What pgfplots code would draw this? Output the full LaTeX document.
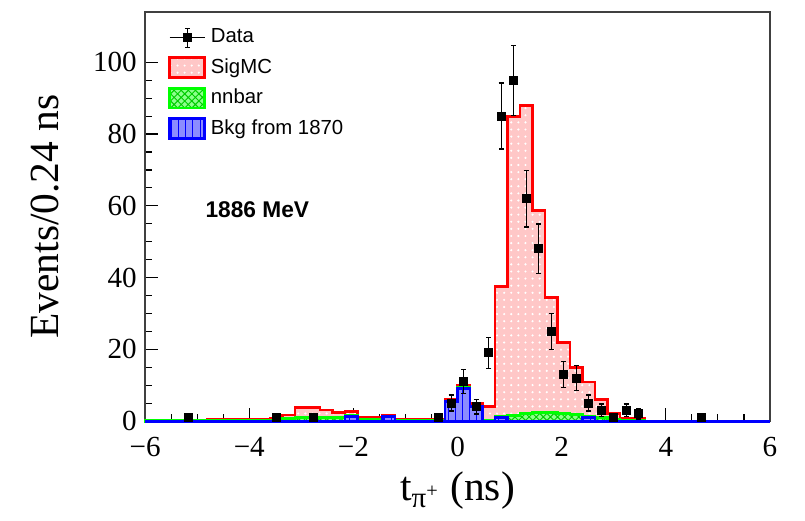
\documentclass[border=0pt]{standalone}
\usepackage{pgfplots}
\pgfplotsset{compat=1.18}
\usepackage{pgfplotstable}
\usepackage{fontspec}
\setmainfont{Liberation Serif}
\newfontfamily\arial{Liberation Sans}
\usetikzlibrary{patterns,calc}

% stacked histograms, bin width 0.24 ns, left edges
% sig = total (SigMC+nnbar+bkg), nn = nnbar+bkg, bkg = Bkg from 1870
\pgfplotstableread{
x     sig   nn   bkg
-6.00 0.3   0.1  0
-5.76 0.3   0.1  0
-5.52 0.3   0.1  0
-5.28 0.3   0.1  0
-5.04 0.3   0.1  0
-4.80 0.4   0.1  0
-4.56 0.5   0.1  0
-4.32 0.5   0.1  0
-4.08 0.6   0.1  0
-3.84 0.6   0.1  0
-3.60 0.7   0.2  0
-3.36 1.7   0.8  0
-3.12 3.8   1.0  0
-2.88 3.8   1.0  0
-2.64 3.1   1.0  0
-2.40 2.4   0.9  0
-2.16 2.6   1.5  1.2
-1.92 1.0   0.4  0
-1.68 1.0   0.4  0
-1.44 1.7   1.3  1.2
-1.20 0.6   0.2  0
-0.96 0.6   0.2  0
-0.72 0.6   0.2  0
-0.48 0.6   0.2  0
-0.24 6.0   5.6  5.5
0.00  10.0  9.3  9.1
0.24  4.9   4.1  4.0
0.48  4.0   0.3  0
0.72  37.6  1.2  1.0
0.96  85.0  1.6  0
1.20  88.0  2.2  0
1.44  58.6  2.4  0
1.68  34.5  2.4  0
1.92  21.9  2.0  0
2.16  14.9  1.8  0
2.40  10.9  1.4  1.0
2.64  5.9   0.9  0
2.88  2.1   0.4  0
3.12  0.8   0.1  0
3.36  0.8   0.1  0
3.60  0     0    0
3.84  0     0    0
4.08  0     0    0
4.32  0     0    0
4.56  0     0    0
4.80  0     0    0
5.04  0     0    0
5.28  0     0    0
5.52  0     0    0
5.76  0     0    0
6.00  0     0    0
}\hist

% data, bin centres, sqrt(N) errors
\pgfplotstableread{
x     y   e
-5.16 1   1
-3.48 1   1
-2.76 1   1
-0.36 1   1
-0.12 5   2.24
0.12  11  3.32
0.36  4   2
0.60  19  4.36
0.84  85  9.22
1.08  95  9.75
1.32  62  7.87
1.56  48  6.93
1.80  25  5
2.04  13  3.61
2.28  12  3.46
2.52  5   2.24
2.76  3   1.73
3.00  1   1
3.24  3   1.73
3.48  2   1.41
4.68  1   1
}\data

\begin{document}
\begin{tikzpicture}
\begin{axis}[
    scale only axis, width=264pt, height=172.8pt,
    xmin=-6, xmax=6, ymin=0, ymax=114,
    xtick={-6,-4,-2,0,2,4,6}, xticklabels={−6,−4,−2,0,2,4,6},
    ytick={0,20,40,60,80,100},
    minor x tick num=3, minor y tick num=3,
    tick pos=left, tick align=inside,
    major tick length=5.5pt, minor tick length=3pt,
    tick style={black, line width=0.5pt},
    axis line style={black!75, line width=0.6pt},
    ticklabel style={font=\fontsize{12.3}{14}\selectfont},
    xticklabel style={yshift=-3.2pt},
    /pgf/number format/assume math mode=true,
    xlabel={t\textsubscript{π\textsuperscript{+}} (ns)},
    ylabel={Events/0.24 ns},
    label style={font=\fontsize{17.5}{20}\selectfont},
    xlabel style={at={(axis description cs:0.5,-0.169)}, anchor=center},
    ylabel style={at={(axis description cs:-0.160,0.5)}, anchor=center},
    clip=false,
    legend style={at={(rel axis cs:0.025,0.983)}, anchor=north west,
                  draw=none, fill=none, row sep=1.1pt,
                  font=\arial\fontsize{8.6}{10}\selectfont},
    legend cell align=left,
    legend image code/.code={\draw[#1] (0pt,-4.2pt) rectangle (14.8pt,4.2pt);},
]
\addlegendimage{black, legend image code/.code={
    \draw[black, line width=0.6pt] (0pt,0pt) -- (14.8pt,0pt);
    \draw[black, line width=0.6pt] (7.4pt,-4pt) -- (7.4pt,4pt);
    \draw[black, line width=0.6pt] (6.4pt,-4pt) -- (8.4pt,-4pt);
    \draw[black, line width=0.6pt] (6.4pt,4pt) -- (8.4pt,4pt);
    \fill[black] (5.7pt,-1.7pt) rectangle (9.1pt,1.7pt);}}
\addlegendentry{Data}

\addplot[const plot mark left, draw=red, line width=1.2pt, fill=red!22,
    postaction={pattern=dots, pattern color=white}]
    table[x=x, y=sig] {\hist} \closedcycle;
\addlegendentry{SigMC}

\addplot[const plot mark left, draw=green, line width=1.2pt, fill=green!45,
    postaction={pattern=crosshatch, pattern color=green!80!black}]
    table[x=x, y=nn] {\hist} \closedcycle;
\addlegendentry{nnbar}

\addplot[const plot mark left, draw=blue, line width=1.2pt, fill=blue!45,
    postaction={pattern=vertical lines, pattern color=blue}]
    table[x=x, y=bkg] {\hist} \closedcycle;
\addlegendentry{Bkg from 1870}

\addplot[black, only marks, mark=square*, mark size=1.7pt, forget plot,
    error bars/.cd, y dir=both, y explicit,
    error bar style={black, line width=0.6pt},
    error mark options={rotate=90, black, mark size=1.1pt, line width=0.6pt}]
    table[x=x, y=y, y error=e] {\data};

\node[anchor=west, font=\arial\bfseries\fontsize{9.6}{11}\selectfont]
    at (axis cs:-5.0,59) {1886 MeV};

\coordinate (bl) at (rel axis cs:0,0);
\coordinate (tr) at (rel axis cs:1,1);
\end{axis}
\pgfresetboundingbox
\path[use as bounding box] ($(bl)+(-61.3pt,-41.8pt)$) rectangle ($(tr)+(14.8pt,5.1pt)$);
\end{tikzpicture}
\end{document}
